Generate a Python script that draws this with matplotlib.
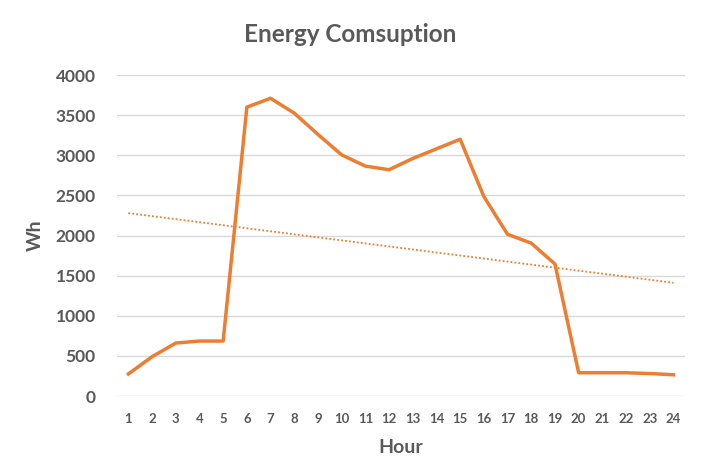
import numpy as np
import matplotlib.pyplot as plt

# data
hours = list(range(1, 25))
energy = [275, 490, 660, 685, 685, 3600, 3710, 3525, 3260, 3005, 2865, 2820,
          2960, 3080, 3200, 2485, 2015, 1905, 1645, 290, 290, 290, 280, 265]

plt.rcParams['font.family'] = ['Lato', 'DejaVu Sans']
grey = '#595959'
orange = '#ED7D31'

fig = plt.figure(figsize=(7.07, 4.68), dpi=100)
ax = fig.add_axes([0.1648, 0.1538, 0.8045, 0.6859])

ax.plot(hours, energy, color=orange, linewidth=2.5, solid_joinstyle='round', zorder=3)

# linear trendline
coef = np.polyfit(hours, energy, 1)
trend = np.polyval(coef, hours)
ax.plot(hours, trend, color=orange, linewidth=1.3, linestyle=(0, (1, 1.2)), zorder=2)

ax.set_xlim(0.5, 24.5)
ax.set_ylim(0, 4000)
ax.set_xticks(hours)
ax.set_yticks(range(0, 4001, 500))
ax.grid(axis='y', color='#d9d9d9', linewidth=1)
ax.set_axisbelow(True)
for s in ax.spines.values():
    s.set_visible(False)
ax.tick_params(length=0)
ax.tick_params(axis='x', labelsize=9.5, colors=grey, pad=12)
ax.tick_params(axis='y', labelsize=12.5, colors=grey, pad=15)
for lab in ax.get_xticklabels() + ax.get_yticklabels():
    lab.set_fontweight('bold')

ax.set_xlabel('Hour', fontsize=14, fontweight='bold', color=grey, labelpad=10)
ax.set_ylabel('Wh', fontsize=14, fontweight='bold', color=grey, labelpad=8)
fig.suptitle('Energy Comsuption', x=0.495, y=0.95, fontsize=17.5, fontweight='bold', color=grey)

fig.savefig('out.png', dpi=100)
